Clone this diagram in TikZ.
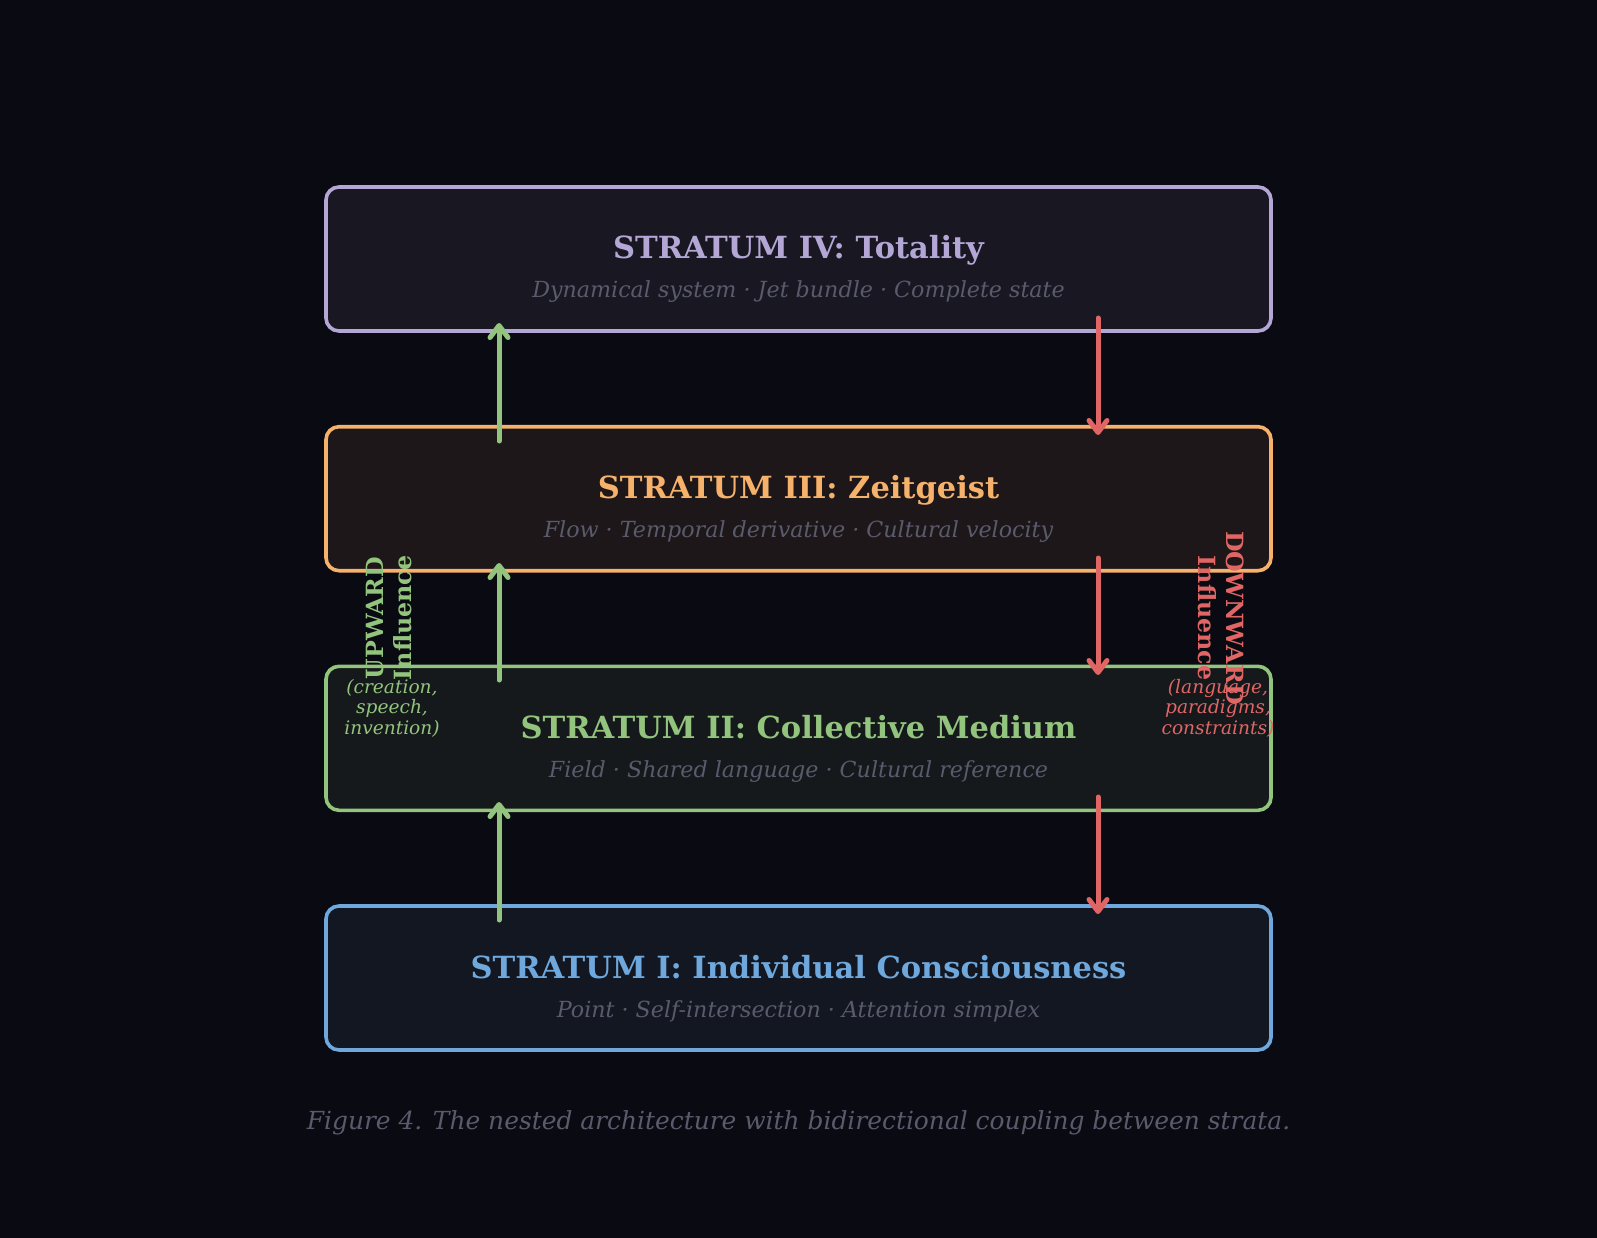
\documentclass[tikz,border=0pt]{standalone}
\usepackage{fontspec}
\setmainfont{DejaVu Serif}
\usetikzlibrary{arrows.meta}
\definecolor{bg}{HTML}{0A0A12}
\definecolor{lav}{HTML}{B4A7D6}
\definecolor{org}{HTML}{F6B26B}
\definecolor{grn}{HTML}{93C47D}
\definecolor{blu}{HTML}{6FA8DC}
\definecolor{dred}{HTML}{E06666}
\definecolor{subgrey}{HTML}{5A5A6C}
\tikzset{
  stratum/.style={draw=#1, fill=#1!8!bg, line width=3.6pt, rounded corners=13pt,
    minimum width=945pt, minimum height=144pt, inner sep=0pt},
  titletext/.style={anchor=base, inner sep=0pt, font=\fontsize{30.5}{36}\selectfont\bfseries},
  subtext/.style={anchor=base, inner sep=0pt, text=subgrey, font=\fontsize{22.2}{26}\selectfont\itshape},
  uparr/.style={draw=grn, line width=5pt, line cap=round, -{Straight Barb[length=12pt,width=18pt,round]}},
  downarr/.style={draw=dred, line width=5pt, line cap=round, -{Straight Barb[length=12pt,width=18pt,round]}},
  sidelabel/.style={align=center, inner sep=0pt, font=\fontsize{23.7}{28}\selectfont\bfseries},
  sidenote/.style={align=center, inner sep=0pt, font=\fontsize{18.6}{20.5}\selectfont\itshape},
}
\begin{document}
\begin{tikzpicture}[x=1pt, y=-1pt]
\fill[bg] (0,0) rectangle (1597,1238);
\useasboundingbox (0,0) rectangle (1597,1238);

% boxes
\node[stratum=lav] (s4) at (798.5,259) {};
\node[stratum=org] (s3) at (798.5,498.7) {};
\node[stratum=grn] (s2) at (798.5,738.3) {};
\node[stratum=blu] (s1) at (798.5,978) {};

% titles
\node[titletext, text=lav] (t4) at (798.5,259) {STRATUM IV: Totality};
\node[subtext] (d4) at (798.5,298) {Dynamical system · Jet bundle · Complete state};
\node[titletext, text=org] (t3) at (798.5,498.7) {STRATUM III: Zeitgeist};
\node[subtext] (d3) at (798.5,537.7) {Flow · Temporal derivative · Cultural velocity};
\node[titletext, text=grn] (t2) at (798.5,738.3) {STRATUM II: Collective Medium};
\node[subtext] (d2) at (798.5,777.3) {Field · Shared language · Cultural reference};
\node[titletext, text=blu] (t1) at (798.5,978) {STRATUM I: Individual Consciousness};
\node[subtext] (d1) at (798.5,1017) {Point · Self-intersection · Attention simplex};

% arrow end points
\coordinate (u1a) at (499,920);   \coordinate (u1b) at (499,802);
\coordinate (u2a) at (499,680);   \coordinate (u2b) at (499,563);
\coordinate (u3a) at (499,441);   \coordinate (u3b) at (499,323);
\coordinate (d4a) at (1098,318);  \coordinate (d4b) at (1098,435);
\coordinate (d3a) at (1098,558);  \coordinate (d3b) at (1098,675);
\coordinate (d2a) at (1098,797);  \coordinate (d2b) at (1098,914);

\draw[uparr] (u1a) -- (u1b);
\draw[uparr] (u2a) -- (u2b);
\draw[uparr] (u3a) -- (u3b);
\draw[downarr] (d4a) -- (d4b);
\draw[downarr] (d3a) -- (d3b);
\draw[downarr] (d2a) -- (d2b);

% side labels
\node[sidelabel, text=grn, rotate=90] (up) at (389,618) {UPWARD\\Influence};
\node[sidenote, text=grn] (upn) at (392,708) {(creation,\\speech,\\invention)};
\node[sidelabel, text=dred, rotate=-90] (dn) at (1221,618) {DOWNWARD\\Influence};
\node[sidenote, text=dred] (dnn) at (1218,708) {(language,\\paradigms,\\constraints)};

% caption
\node[inner sep=0pt, text=subgrey, font=\fontsize{24.9}{28}\selectfont\itshape] (cap) at (798.5,1123)
  {Figure 4. The nested architecture with bidirectional coupling between strata.};
\end{tikzpicture}
\end{document}
